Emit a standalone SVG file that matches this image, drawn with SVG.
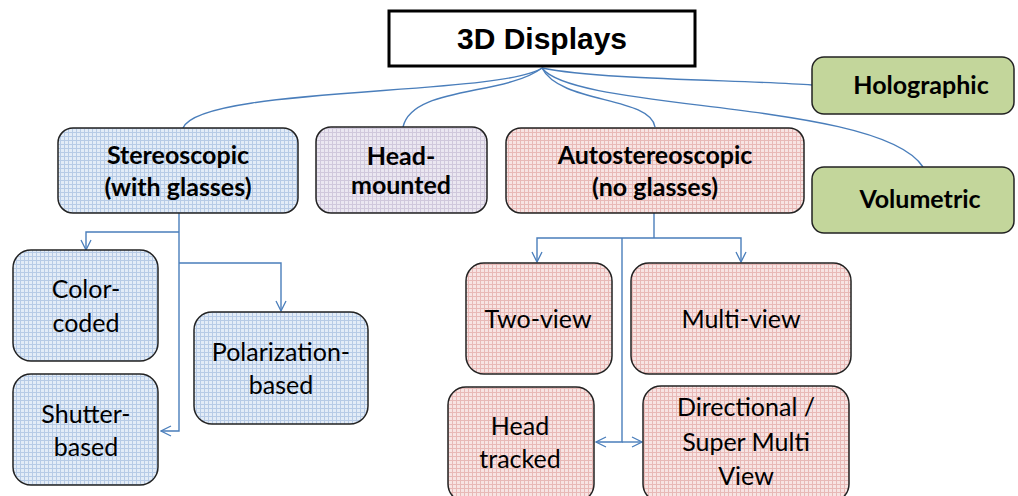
<svg xmlns="http://www.w3.org/2000/svg" width="1018" height="496" viewBox="0 0 1018 496">
<defs>
<pattern id="pb" width="4" height="4" patternUnits="userSpaceOnUse"><rect width="4" height="4" fill="#e3ecf7"/><path d="M0,0.5H4M0.5,0V4" stroke="#b7cbe6" stroke-width="1"/></pattern>
<pattern id="pl" width="4" height="4" patternUnits="userSpaceOnUse"><rect width="4" height="4" fill="#ebe7f1"/><path d="M0,0.5H4M0.5,0V4" stroke="#d0c8dc" stroke-width="1"/></pattern>
<pattern id="pr" width="4" height="4" patternUnits="userSpaceOnUse"><rect width="4" height="4" fill="#f7e4e3"/><path d="M0,0.5H4M0.5,0V4" stroke="#e8b9b7" stroke-width="1"/></pattern>
<marker id="ar" viewBox="0 0 12 12" refX="11" refY="6" markerWidth="12" markerHeight="12" markerUnits="userSpaceOnUse" orient="auto"><path d="M1,1L11,6L1,11" fill="none" stroke="#4a7ebb" stroke-width="1.3"/></marker>
</defs>
<style>
.box{stroke:#222;stroke-width:1.5}
.b{fill:url(#pb)}.l{fill:url(#pl)}.r{fill:url(#pr)}.g{fill:#c3d69b}
.t{font-family:Lato,"Open Sans",sans-serif;font-size:25px;fill:#000;text-anchor:middle}
.tb{font-family:Lato,"Open Sans",sans-serif;font-size:25px;font-weight:bold;fill:#000;text-anchor:middle}
.c{fill:none;stroke:#4a7ebb;stroke-width:1.4}
</style>
<rect width="1018" height="496" fill="#fff"/>
<g id="connectors">
<path class="c" d="M542,68 C500,96 200,86 183,128"/>
<path class="c" d="M542,68 C505,96 412,86 403,127"/>
<path class="c" d="M542,68 C560,104 650,96 655,127"/>
<path class="c" d="M542,68 C600,80 750,80 812,85"/>
<path class="c" d="M542,68 C575,112 880,100 923,167"/>
<path class="c" d="M179,213V431H161" marker-end="url(#ar)"/>
<path class="c" d="M179,232H86V250" marker-end="url(#ar)"/>
<path class="c" d="M179,263H281V311" marker-end="url(#ar)"/>
<path class="c" d="M654,213V238"/>
<path class="c" d="M654,238H537V262" marker-end="url(#ar)"/>
<path class="c" d="M654,238H741V262" marker-end="url(#ar)"/>
<path class="c" d="M622,238V442H596" marker-end="url(#ar)"/>
<path class="c" d="M622,442H642" marker-end="url(#ar)"/>
</g>
<g id="root">
<rect x="389" y="11" width="306" height="55" fill="#fff" stroke="#000" stroke-width="3"/>
<text x="542" y="49" font-family="'Liberation Sans',Arial,sans-serif" font-size="30" font-weight="bold" text-anchor="middle">3D Displays</text>
</g>
<g id="stereoscopic">
<rect class="box b" x="58" y="128" width="240" height="85" rx="15"/>
<text class="tb" x="178" y="164">Stereoscopic</text>
<text class="tb" x="178" y="196">(with glasses)</text>
</g>
<g id="head-mounted">
<rect class="box l" x="316" y="127" width="171" height="86" rx="15"/>
<text class="tb" x="401" y="165">Head-</text>
<text class="tb" x="401" y="194">mounted</text>
</g>
<g id="autostereoscopic">
<rect class="box r" x="506" y="128" width="298" height="85" rx="15"/>
<text class="tb" x="655" y="164">Autostereoscopic</text>
<text class="tb" x="655" y="196">(no glasses)</text>
</g>
<g id="holographic">
<rect class="box g" x="812" y="57" width="202" height="57" rx="12"/>
<text class="tb" x="921" y="94">Holographic</text>
</g>
<g id="volumetric">
<rect class="box g" x="812" y="167" width="202" height="66" rx="12"/>
<text class="tb" x="920" y="208">Volumetric</text>
</g>
<g id="color-coded">
<rect class="box b" x="13" y="250" width="145" height="111" rx="18"/>
<text class="t" x="86" y="298">Color-</text>
<text class="t" x="86" y="332">coded</text>
</g>
<g id="shutter-based">
<rect class="box b" x="13" y="374" width="145" height="111" rx="18"/>
<text class="t" x="86" y="423">Shutter-</text>
<text class="t" x="86" y="456">based</text>
</g>
<g id="polarization-based">
<rect class="box b" x="194" y="312" width="174" height="112" rx="18"/>
<text class="t" x="281" y="361">Polarization-</text>
<text class="t" x="281" y="394">based</text>
</g>
<g id="two-view">
<rect class="box r" x="466" y="263" width="146" height="111" rx="18"/>
<text class="t" x="538" y="328">Two-view</text>
</g>
<g id="multi-view">
<rect class="box r" x="631" y="263" width="220" height="111" rx="18"/>
<text class="t" x="741" y="328">Multi-view</text>
</g>
<g id="head-tracked">
<rect class="box r" x="448" y="387" width="146" height="115" rx="18"/>
<text class="t" x="520" y="435">Head</text>
<text class="t" x="520" y="468">tracked</text>
</g>
<g id="directional">
<rect class="box r" x="643" y="386" width="206" height="116" rx="18"/>
<text class="t" x="746" y="416">Directional /</text>
<text class="t" x="746" y="451">Super Multi</text>
<text class="t" x="746" y="485">View</text>
</g>
</svg>
